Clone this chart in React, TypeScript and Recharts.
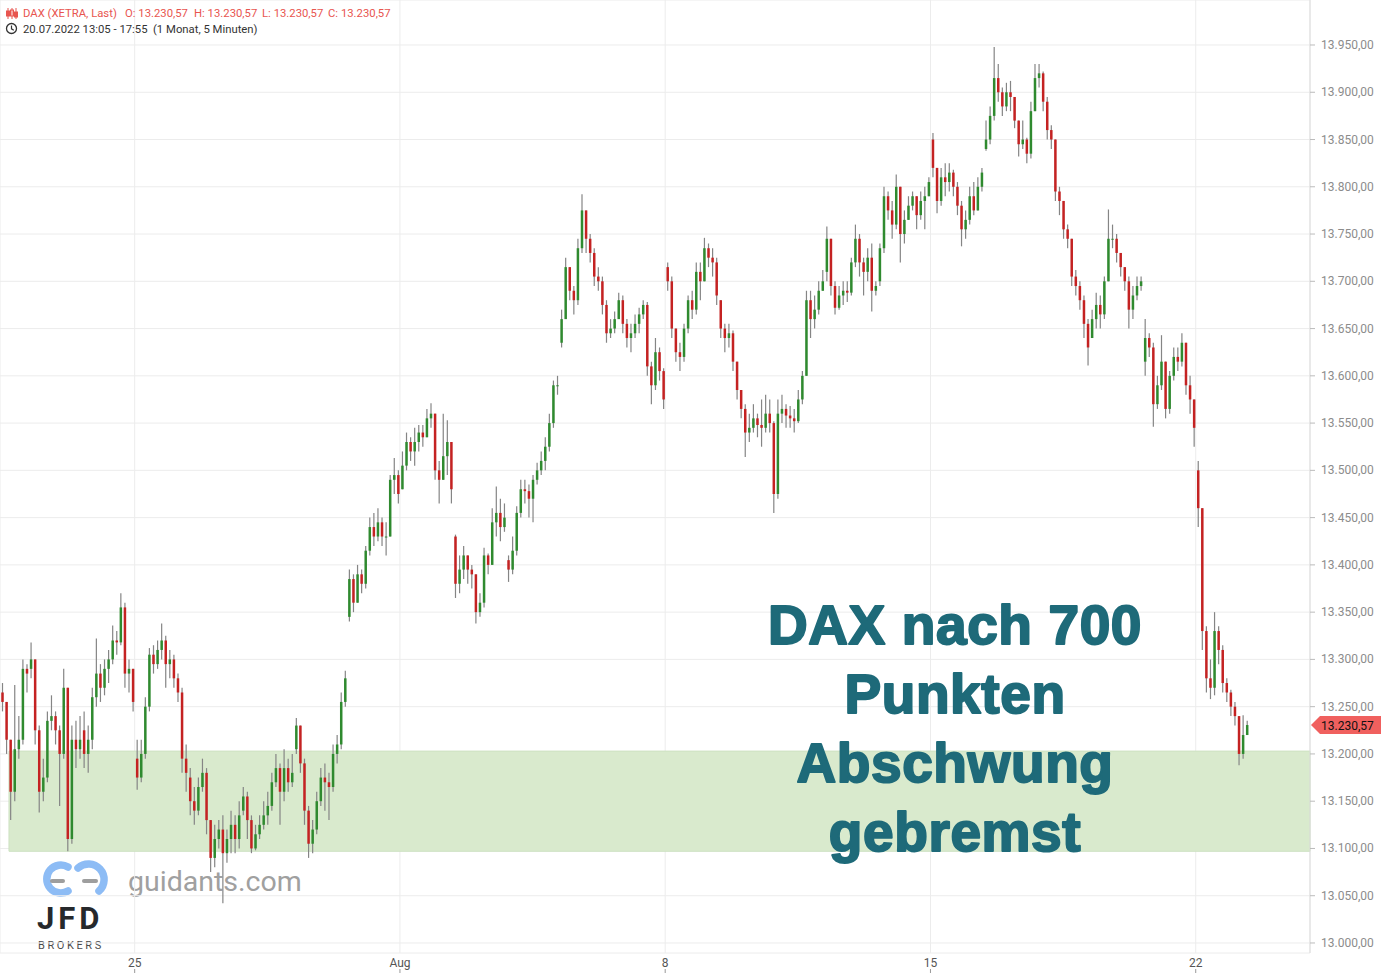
import React from 'react';
import { ComposedChart, Bar, XAxis, YAxis, CartesianGrid, ReferenceArea, ReferenceLine } from 'recharts';

// each candle: [close, high, low] – open is the previous close inside a day
type C = [number, number, number];

const jul20: C[] = [[13255,13275,13245],[13215,13250,13200],[13160,13215,13130],[13205,13273,13150],[13215,13240,13195],[13290,13300,13210],[13285,13295,13265]];
const jul21: C[] = [[13300,13318,13280],[13225,13300,13210],[13160,13230,13138],[13175,13195,13150],[13235,13245,13170],[13240,13262,13225],[13225,13245,13210],[13200,13230,13145],[13270,13290,13195],[13110,13270,13097],[13215,13230,13105],[13205,13235,13185],[13215,13240,13195]];
const jul22: C[] = [[13200,13245,13185],[13215,13230,13180],[13260,13270,13205],[13285,13322,13250],[13270,13295,13255],[13290,13300,13262],[13300,13310,13275],[13320,13336,13295],[13318,13330,13305],[13355,13370,13315],[13285,13360,13270],[13290,13300,13265],[13255,13290,13245]];
const jul25: C[] = [[13175,13215,13162],[13200,13215,13170],[13250,13260,13195],[13305,13312,13245],[13295,13315,13285],[13310,13320,13290],[13320,13338,13300],[13295,13325,13270],[13300,13310,13280],[13280,13305,13270],[13265,13285,13255],[13195,13270,13180],[13180,13210,13160]];
const jul26: C[] = [[13150,13185,13135],[13140,13165,13125],[13165,13175,13135],[13180,13195,13160],[13130,13185,13115],[13090,13130,13075],[13110,13125,13080],[13120,13130,13100],[13095,13135,13042],[13110,13120,13085],[13125,13140,13095],[13110,13135,13095],[13135,13150,13100]];
const jul27: C[] = [[13155,13165,13135],[13130,13160,13110],[13100,13135,13095],[13115,13125,13098],[13125,13135,13110],[13135,13150,13120],[13145,13160,13125],[13170,13180,13140],[13185,13200,13165],[13160,13190,13125],[13185,13205,13150],[13170,13195,13160],[13180,13200,13165]];
const jul28: C[] = [[13230,13238,13200],[13190,13225,13180],[13140,13195,13125],[13105,13145,13090],[13120,13130,13095],[13150,13160,13115],[13175,13185,13145],[13170,13190,13140],[13165,13180,13130],[13200,13210,13160],[13210,13220,13190],[13255,13265,13205],[13280,13288,13250]];
const jul29: C[] = [[13385,13395,13340],[13360,13390,13350],[13390,13400,13360],[13380,13395,13370],[13415,13420,13375],[13440,13450,13410],[13430,13455,13420],[13445,13460,13425],[13430,13450,13420],[13430,13445,13410],[13490,13495,13430],[13495,13513,13475],[13475,13500,13465]];
const aug1: C[] = [[13505,13520,13490],[13530,13540,13500],[13520,13535,13510],[13530,13545,13505],[13540,13548,13520],[13535,13548,13525],[13555,13565,13535],[13560,13571,13545],[13500,13560,13490],[13490,13510,13465],[13515,13560,13490],[13530,13553,13495],[13480,13525,13465]];
const aug2: C[] = [[13380,13432,13365],[13395,13410,13370],[13410,13420,13385],[13395,13410,13380],[13390,13400,13375],[13350,13390,13338],[13360,13370,13345],[13410,13418,13355],[13400,13412,13390],[13445,13460,13400],[13455,13483,13430],[13440,13470,13425],[13450,13465,13435]];
const aug3: C[] = [[13395,13410,13382],[13415,13430,13390],[13455,13462,13410],[13480,13490,13450],[13478,13490,13465],[13470,13485,13450],[13490,13495,13445],[13500,13508,13485],[13510,13520,13495],[13525,13535,13500],[13550,13560,13520],[13590,13595,13545],[13590,13600,13580]];
const aug4: C[] = [[13660,13670,13630],[13715,13725,13660],[13690,13712,13680],[13680,13695,13665],[13735,13745,13675],[13775,13792,13730],[13745,13770,13730],[13730,13750,13720],[13705,13735,13695],[13700,13715,13690],[13675,13705,13665],[13645,13680,13635],[13650,13660,13640]];
const aug5: C[] = [[13660,13668,13645],[13680,13688,13660],[13655,13685,13645],[13640,13660,13630],[13645,13655,13625],[13655,13665,13640],[13665,13672,13645],[13675,13680,13660],[13610,13678,13600],[13590,13615,13570],[13625,13640,13585],[13605,13630,13595],[13575,13608,13565]];
const aug8: C[] = [[13700,13720,13690],[13650,13705,13640],[13625,13650,13615],[13620,13635,13605],[13650,13655,13615],[13680,13685,13645],[13670,13690,13660],[13710,13720,13665],[13700,13720,13680],[13735,13746,13700],[13725,13740,13715],[13720,13735,13705],[13685,13725,13675]];
const aug9: C[] = [[13650,13668,13640],[13640,13655,13625],[13645,13655,13630],[13615,13648,13605],[13585,13615,13575],[13565,13585,13555],[13540,13570,13514],[13545,13560,13530],[13555,13570,13540],[13548,13560,13535],[13545,13575,13525],[13560,13580,13540],[13550,13575,13540]];
const aug10: C[] = [[13475,13552,13455],[13560,13575,13470],[13565,13580,13550],[13558,13570,13545],[13555,13568,13545],[13552,13565,13540],[13575,13585,13550],[13600,13605,13570],[13680,13690,13600],[13660,13690,13640],[13670,13685,13650],[13690,13700,13665],[13700,13712,13690]];
const aug11: C[] = [[13745,13758,13700],[13695,13745,13685],[13672,13700,13665],[13685,13695,13670],[13690,13700,13675],[13688,13700,13678],[13720,13725,13685],[13745,13760,13715],[13720,13750,13705],[13710,13725,13685],[13725,13735,13700],[13690,13740,13668],[13695,13700,13685]];
const aug12: C[] = [[13735,13740,13695],[13790,13800,13730],[13775,13795,13765],[13760,13785,13745],[13800,13813,13755],[13750,13800,13720],[13765,13775,13740],[13780,13790,13765],[13790,13795,13775],[13770,13790,13755],[13785,13795,13765],[13790,13800,13755],[13805,13810,13790]];
const aug15: C[] = [[13820,13857,13810],[13785,13820,13772],[13810,13820,13780],[13805,13825,13790],[13815,13825,13795],[13800,13818,13790],[13780,13805,13770],[13755,13785,13737],[13765,13775,13745],[13790,13800,13760],[13775,13805,13770],[13800,13810,13780],[13815,13820,13795]];
const aug16: C[] = [[13850,13870,13838],[13875,13885,13845],[13915,13948,13870],[13900,13930,13890],[13885,13905,13875],[13900,13910,13880],[13895,13912,13880],[13870,13895,13862],[13845,13870,13832],[13850,13870,13840],[13835,13852,13825],[13880,13890,13830],[13915,13930,13880]];
const aug17: C[] = [[13920,13930,13905],[13890,13922,13880],[13860,13895,13850],[13850,13865,13840],[13795,13850,13785],[13785,13800,13770],[13755,13785,13745],[13745,13760,13735],[13705,13745,13695],[13695,13712,13685],[13680,13700,13670],[13655,13685,13640],[13630,13660,13611]];
const aug18: C[] = [[13660,13670,13640],[13675,13688,13650],[13665,13685,13650],[13700,13705,13660],[13745,13776,13700],[13745,13760,13735],[13730,13750,13720],[13715,13730,13705],[13700,13715,13690],[13670,13705,13650],[13685,13695,13660],[13695,13705,13680],[13700,13705,13690]];
const aug19: C[] = [[13640,13660,13600],[13630,13645,13620],[13570,13635,13546],[13590,13600,13565],[13615,13643,13585],[13565,13615,13555],[13600,13605,13560],[13620,13630,13595],[13615,13630,13605],[13635,13645,13610],[13590,13635,13580],[13575,13600,13560],[13545,13575,13525]];
const aug22: C[] = [[13460,13510,13440],[13330,13460,13310],[13280,13335,13265],[13270,13300,13258],[13330,13350,13262],[13310,13335,13295],[13275,13315,13265],[13265,13280,13255],[13250,13268,13240],[13240,13255,13230],[13200,13240,13188],[13220,13241,13195],[13230.57,13235,13222]];

const days = [jul20, jul21, jul22, jul25, jul26, jul27, jul28, jul29, aug1, aug2, aug3, aug4, aug5, aug8, aug9, aug10, aug11, aug12, aug15, aug16, aug17, aug18, aug19, aug22];
const dayOpens = [13265, 13290, 13225, 13195, 13175, 13140, 13205, 13345, 13480, 13430, 13405, 13635, 13650, 13715, 13680, 13550, 13710, 13700, 13850, 13840, 13915, 13640, 13615, 13500];

// x-axis labels sit on the first candle of these days
const tickDays = [3, 8, 13, 18, 23];
const tickLabels = ['25', 'Aug', '8', '15', '22'];
const yTicks = [13000, 13050, 13100, 13150, 13200, 13250, 13300, 13350, 13400, 13450, 13500, 13550, 13600, 13650, 13700, 13750, 13800, 13850, 13900, 13950];

const lastPrice = 13230.57;
const zoneLow = 13097;
const zoneHigh = 13203;
const headline = ['DAX nach 700', 'Punkten', 'Abschwung', 'gebremst'];

const X_MAX = 321;
const Y_DOMAIN: [number, number] = [12989.4, 13997.6];

const rows: any[] = [];
const dayStart: number[] = [];
days.forEach((d, di) => {
  dayStart.push(rows.length);
  let prev = dayOpens[di];
  d.forEach(([c, h, l]) => {
    rows.push({
      x: rows.length + 0.5,
      open: prev,
      close: c,
      range: [Math.min(l, prev, c), Math.max(h, prev, c)],
    });
    prev = c;
  });
});
const tickPositions = tickDays.map((d) => dayStart[d]);

const fmt = (v: number) => {
  const [i, d] = v.toFixed(2).split('.');
  return i.replace(/\B(?=(\d{3})+(?!\d))/g, '.') + ',' + d;
};

const Candle = (props: any) => {
  const { x, y, width, height, payload } = props;
  if (y == null || height == null || !payload) return null;
  const top = Math.min(y, y + height);
  const h = Math.abs(height);
  const [lo, hi] = payload.range;
  const toY = (p: number) => (hi === lo ? top : top + ((hi - p) / (hi - lo)) * h);
  const cx = x + width / 2;
  const up = payload.close >= payload.open;
  const yo = toY(payload.open);
  const yc = toY(payload.close);
  return (
    <g>
      <line x1={cx} x2={cx} y1={top} y2={top + h} stroke="#858585" strokeWidth={1.2} />
      <rect
        x={cx - 1.25}
        y={Math.min(yo, yc)}
        width={2.5}
        height={Math.max(1, Math.abs(yc - yo))}
        fill={up ? '#2f8a2f' : '#c42222'}
      />
    </g>
  );
};

const XTick = ({ x, y, payload }: any) => {
  const idx = tickPositions.indexOf(payload.value);
  return (
    <g>
      <text x={x} y={y + 14} textAnchor="middle" fontSize={12} fill="#555">
        {tickLabels[idx] ?? ''}
      </text>
      <line x1={x} x2={x} y1={y + 16} y2={y + 20} stroke="#999" />
    </g>
  );
};

const YTick = ({ x, y, payload }: any) => (
  <text x={x} y={y} dy={4} fontSize={12} fill="#8c8c8c">
    {fmt(payload.value)}
  </text>
);

const PriceTag = (props: any) => {
  const vb = props.viewBox;
  if (!vb) return null;
  const x0 = vb.x + vb.width;
  const y = vb.y;
  return (
    <g>
      <polygon
        points={`${x0 + 1},${y} ${x0 + 10},${y - 9} ${x0 + 71},${y - 9} ${x0 + 71},${y + 9} ${x0 + 10},${y + 9}`}
        fill="#f0605e"
      />
      <text x={x0 + 11} y={y + 4.5} fontSize={12} fill="#111">
        {fmt(lastPrice)}
      </text>
    </g>
  );
};

const App = () => {
  return (
    <div style={{ position: 'absolute', left: 0, top: 0, width: 1381, height: 973, background: '#fff', fontFamily: 'Roboto, sans-serif', overflow: 'hidden' }}>
      {/* watermark logos */}
      <svg width={1381} height={973} style={{ position: 'absolute', left: 0, top: 0 }}>
        <path d="M 68 867 A 14 14 0 1 0 68 891" fill="none" stroke="#8dbcf5" strokeWidth={7.5} strokeLinecap="round" />
        <path d="M 78 868 A 14 14 0 1 1 99 891" fill="none" stroke="#8dbcf5" strokeWidth={7.5} strokeLinecap="round" />
        <rect x={50} y={879} width={15} height={4} rx={2} fill="#9e9e9e" />
        <rect x={82} y={879} width={16} height={4} rx={2} fill="#9e9e9e" />
        <text x={128} y={891} fontSize={28.5} fill="#a0a0a0" fontFamily="Roboto, sans-serif">guidants.com</text>
        <text x={37} y={929} fontSize={31} fontWeight="bold" fill="#26292c" letterSpacing={4} fontFamily="Roboto, sans-serif">JFD</text>
        <text x={38} y={949} fontSize={11} fill="#4a4a4a" letterSpacing={2.6} fontFamily="Roboto, sans-serif">BROKERS</text>
      </svg>
      <div style={{ position: 'absolute', left: 0, top: 0 }}>
        <ComposedChart width={1381} height={973} data={rows} margin={{ top: 0, right: 0, left: 0, bottom: 0 }}>
          <CartesianGrid stroke="#ececec" />
          <XAxis
            type="number"
            dataKey="x"
            domain={[0, X_MAX]}
            allowDataOverflow
            ticks={tickPositions}
            height={20}
            axisLine={false}
            tickLine={false}
            tickSize={0}
            tickMargin={0}
            tick={<XTick />}
          />
          <YAxis
            orientation="right"
            domain={Y_DOMAIN}
            allowDataOverflow
            ticks={yTicks}
            width={71}
            axisLine={{ stroke: '#dddddd' }}
            tickLine={{ stroke: '#bbbbbb' }}
            tickSize={5}
            tickMargin={6}
            tick={<YTick />}
          />
          <ReferenceArea x1={2.2} x2={X_MAX} y1={zoneLow} y2={zoneHigh} fill="#d9eacd" fillOpacity={1} stroke="#cde1c1" />
          <Bar dataKey="range" shape={<Candle />} barSize={3} isAnimationActive={false} />
          <ReferenceLine y={lastPrice} stroke="none" label={<PriceTag />} />
        </ComposedChart>
      </div>
      {/* header + headline */}
      <svg width={1381} height={973} style={{ position: 'absolute', left: 0, top: 0, pointerEvents: 'none' }}>
        <g stroke="#e8554f" fill="none" strokeWidth={1}>
          <line x1={8} x2={8} y1={8} y2={19} />
          <rect x={6.5} y={11} width={3} height={5} fill="#e8554f" />
          <line x1={12} x2={12} y1={8} y2={19} />
          <rect x={10.5} y={10} width={3} height={6} fill="none" />
          <line x1={16} x2={16} y1={8} y2={19} />
          <rect x={14.5} y={12} width={3} height={5} fill="#e8554f" />
        </g>
        <text y={17} fontSize={11.3} fill="#e8554f">
          <tspan x={23}>DAX (XETRA, Last)</tspan>
          <tspan x={125}>O: {fmt(lastPrice)}</tspan>
          <tspan x={194}>H: {fmt(lastPrice)}</tspan>
          <tspan x={262}>L: {fmt(lastPrice)}</tspan>
          <tspan x={328}>C: {fmt(lastPrice)}</tspan>
        </text>
        <circle cx={11.5} cy={28.5} r={5} fill="none" stroke="#333" strokeWidth={1.3} />
        <path d="M 11.5 25.5 V 28.8 L 13.8 30.2" fill="none" stroke="#333" strokeWidth={1.2} />
        <text y={33} fontSize={11.3} fill="#333">
          <tspan x={23}>20.07.2022 13:05 - 17:55</tspan>
          <tspan x={153}>(1 Monat, 5 Minuten)</tspan>
        </text>
        {headline.map((t, i) => (
          <text
            key={t}
            x={955}
            y={644 + i * 69}
            textAnchor="middle"
            fontSize={55}
            fontWeight="bold"
            fontFamily="'Liberation Sans', Arial, sans-serif"
            fill="#1e6a79"
            stroke="#1e6a79"
            strokeWidth={2}
            strokeLinejoin="round"
            letterSpacing={0.6}
          >
            {t}
          </text>
        ))}
      </svg>
    </div>
  );
};

export default App;
